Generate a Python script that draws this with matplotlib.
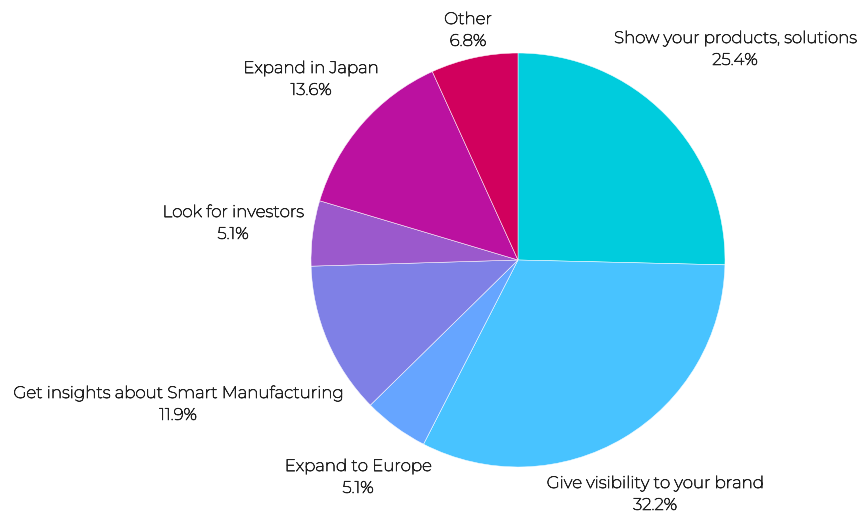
import matplotlib
matplotlib.use("Agg")
from matplotlib import pyplot as plt
from matplotlib import patheffects

labels = ["Show your products, solutions", "Give visibility to your brand",
          "Expand to Europe", "Get insights about Smart Manufacturing",
          "Look for investors", "Expand in Japan", "Other"]
shares = [25.4, 32.2, 5.1, 11.9, 5.1, 13.6, 6.8]
colors = ["#00CCDD", "#48C3FF", "#66A5FF", "#7F80E6", "#9B59CC", "#BB11A0", "#D1005D"]

# label block centres, in pixels (x right, y up)
label_pos = [(735, 467), (655, 22), (358, 39), (178, 112), (233, 293), (311, 437), (468, 486)]

plt.rcParams['font.family'] = ['Montserrat', 'DejaVu Sans']

fig = plt.figure(figsize=(8.59, 5.16), dpi=100, facecolor='white')
ax = fig.add_axes([0, 0, 1, 1], frameon=False)

ax.pie(shares, colors=colors, startangle=90, counterclock=False,
       center=(518, 256), radius=207, frame=True,
       wedgeprops=dict(edgecolor='white', linewidth=0.35))
ax.set_xlim(0, 859)
ax.set_ylim(0, 516)
ax.set_aspect('equal')
ax.axis('off')

# the installed Montserrat draws thin, so thicken the strokes a little
bold = [patheffects.withStroke(linewidth=0.5, foreground='#222222')]
for name, val, (x, y) in zip(labels, shares, label_pos):
    ax.text(x, y, "%s\n%.1f%%" % (name, val), ha='center', va='center',
            fontsize=12, color='#222222', linespacing=1.45, path_effects=bold)

plt.savefig('out.png', dpi=100)
